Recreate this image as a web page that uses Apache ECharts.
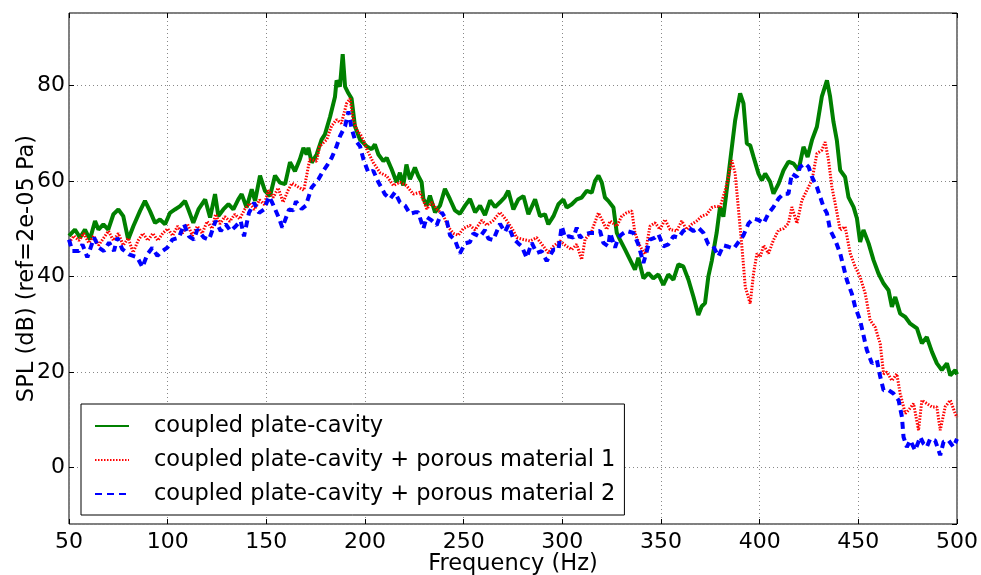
<!DOCTYPE html>
<html>
<head>
<meta charset="utf-8">
<script src="https://cdn.jsdelivr.net/npm/echarts@6/dist/echarts.min.js"></script>
<style>
html,body{margin:0;padding:0;background:#fff;}
#chart{width:981px;height:575px;}
</style>
</head>
<body>
<div id="chart"></div>
<script>
var seriesNames = ["coupled plate-cavity", "coupled plate-cavity + porous material 1", "coupled plate-cavity + porous material 2"];
var xTicks = [50, 100, 150, 200, 250, 300, 350, 400, 450, 500];
var yTicks = [0, 20, 40, 60, 80];

var gFreq = [50,53,55.6,58.1,60.6,63.2,64.9,67.4,69.9,72.5,75,77.5,80,82.6,86,88.5,91,93.6,96.1,98.7,101.2,103.7,106.3,108.8,110.5,113,115.6,119,121.5,124,125.7,128.2,130.8,133.3,135.8,137.5,140,142.6,144.3,146.8,149.3,151.9,154.4,156.9,159.5,162,164.5,167,168.8,170.4,171.3,173,175.5,178,179.7,182.3,184.8,185.6,187.3,188.7,189.9,191.6,193.2,194.9,197.5,200.9,203.4,205,206.8,209.3,211,213.5,216,217.7,219.4,221,222.8,225.3,227,228.7,229.6,231.3,232.9,235.5,238,240.5,243,245.6,248.1,250.7,253.2,255.8,258.3,260.8,263.4,265.9,268.4,270.9,272.6,275.2,277.7,280.3,282.8,286.2,288.7,291.2,292.9,295.5,298,300.5,302.2,304.8,307.3,309.8,312.4,314.9,316.6,318.3,320,321.6,323.3,325.9,327.6,329.2,331.8,334.3,336.8,338.5,341.1,343.6,346.1,348.7,351.2,353.7,356.3,358.8,361.3,363.9,366.4,368.9,370.6,372.3,374,375.7,378.2,379.9,381.6,383,385.1,387.6,390.1,391.8,393.5,395.2,396.9,399.4,401.1,402.8,405.3,407,409.6,412.1,414.6,417.2,419.7,422.2,424.3,426.5,429,431.5,434.1,435.7,437.4,439.1,440.8,443.3,445,447.6,449.3,450.9,452.6,455.2,457.7,460.2,462.8,465.3,467,468.7,471.2,473.8,476.3,479.7,482.2,484.7,487.3,489.8,492.3,494.9,496.6,499.1,500];
var gSpl = [48.5,49.8,48.1,49.8,47.7,51.6,49.8,50.9,49.8,53,54,52.6,47.7,50.5,53.7,55.8,53.7,51.2,51.9,50.9,53.3,54,54.7,55.8,54,51.2,54,56.1,52.3,57.2,52.6,54,55.1,54,56.1,57.2,54.4,58.2,55.8,61.1,57.9,56.8,61.1,59.6,59.3,63.9,62,64.5,66.9,65.5,66.9,63.8,65.5,68.6,69.7,73.4,77.6,81,79.7,86.5,79.7,78.3,77.2,71.4,68.6,67.2,66.6,67.6,65.5,64.1,64.8,62.4,59.7,61.7,59,63.4,60.3,62.8,61,59.7,56.2,54.8,56.9,53.4,54.8,58.3,56.2,53.8,53.1,54.8,56.2,53.4,54.8,52.8,55.9,54.5,55.5,56.6,57.9,54,56.1,56.8,53,56.1,52.6,53,50.9,52.6,55.1,56.1,54.4,55.1,56.1,56.5,57.9,57.5,60,61.1,59.6,56.5,55.8,54.4,49.1,47.7,45.6,43.5,41.4,43.9,39.6,40.7,39.6,40.4,38.2,40.4,39.3,42.5,42.1,39.3,35.8,31.9,33.7,34.4,40,43.2,49.1,54.5,52.5,57,64.3,72.7,78.3,76.2,67.8,67.4,65,61.5,60.1,61.5,59.8,57.3,59.4,62.2,64,63.6,62.2,67.1,65,68.5,71.3,77.6,81,77.6,72.3,68.5,62.2,60.8,56.6,54.5,52.1,47.2,49.7,46.9,43.4,40.6,38.5,37.1,33.6,35.7,32.2,31.5,30.1,29.1,26,27.3,24.2,21.8,20.4,21.8,19.3,20.4,19.5];

var rFreq = [50,52.5,55,57.5,60,62.5,65,67.5,70,72.5,75,77.5,80,82.5,85,87.5,90,92.5,95,97.5,100,102.5,105,107.5,110,112.5,115,117.5,120,122.5,124.3,126.5,129,131.5,134,136.5,139,141.5,144,146.5,149,151,153.5,156,158.5,161,163,165,169,172,175.5,177,180.6,183,185.6,188,190.7,192.4,194,195.8,198.3,201.7,204.2,207.6,211,214.4,217.7,221,224.5,227.9,231.3,233.8,236.3,239.7,242.2,244.8,247.3,249.8,253.2,255.8,259.1,261.7,265,268.4,271.8,275.2,276.9,280.3,283.6,287,290.4,292.9,295.5,298.8,302.2,304.8,307.3,309.8,311.5,314.9,318.3,320,322.5,324.2,327.6,330.1,332.6,335.2,336.8,339.4,341.9,344.4,347,349.5,352,354.6,358,360.5,363,365.6,368.1,370.6,373.2,375.7,378.2,380,382.5,384.2,385.9,387.6,389.3,391,392.7,395.2,396.9,398.6,400.3,402,404.5,407,409.6,412.1,414.6,416.3,418.9,421.4,423.9,426.5,429,431.5,433.2,434.9,436.6,438.3,440.8,443.3,445.9,448.4,450.9,453.5,456,458.5,461.1,462.8,464.5,467,469.5,471.2,473.8,475.4,478,480.5,482.2,484.7,487.3,489.8,491.5,494,496.6,499.1,500];
var rSpl = [47,48.5,47.5,49,47,48.5,46.5,48,49.5,47.5,49,46.5,48,45,47.5,49,47.5,49,47.5,49,50,48.5,50.5,49,51,48.5,50.5,49,51.5,50,53,51,52.5,51.5,53,52,54,55.3,54,56,55,58,56.5,58.5,55.5,58,59.5,59,58,64.5,64.1,67.2,68.6,71.4,72.8,72,76.2,77.2,72.8,70.7,69.3,65.9,63.8,61.7,61,59,59.7,59,57.2,57.6,54.1,55.5,54.1,52.8,50.3,49,48.6,50,50.7,49.7,51.7,50.7,51.7,53.4,51.7,49.5,48.1,47.7,47.4,48.1,46.3,44.9,46.3,47.4,46.3,45.6,46.7,43.5,47.7,49.5,53.3,51.9,49.8,51.6,50.5,52.6,53.3,53.7,49.1,46.3,44.6,50.5,51.2,49.8,51.9,49.8,49.5,51.6,49.8,50.9,51.6,52.6,53,54.4,54.7,54.5,58,60.8,64.3,61.5,53.8,46.2,37.8,34.3,40.6,44.8,44.1,46.5,44.8,47.6,49.7,50,51.1,54.5,51.1,55.9,58,60.1,65.7,66.4,68.1,64.3,58.7,55.2,49.7,50.4,44.8,42,39.9,36.4,30.8,29.4,25.9,19.6,20,18.2,19.6,15.5,11.3,12,13.4,7.8,14.1,13.4,12.7,12.7,7.8,12.7,14.1,11.3,10.5];

var bFreq = [50,51.7,55,56.8,59.3,62.7,65.2,67.7,70.3,72.8,74.5,77,80.4,84.6,87.2,89.7,92.2,94.8,97.3,99.8,102.4,105.7,108.3,110.8,113.3,115,118.4,121,124.3,126.9,129.4,131.9,134.5,137,138.7,141.2,143.8,146.3,148.8,151.4,153,156.4,158.1,161.5,163.7,165,167.9,170,173,176.4,178.9,180.6,183.1,185.6,187.3,189.9,191.6,193.2,194.9,197.5,199.2,201.7,204.2,206.8,210.1,212.7,215.2,217.7,220.3,222.8,225.3,227,229.6,231.3,233.8,236.3,238.9,241.4,243.1,245.6,248.1,250.7,253.2,254.9,258.3,260.8,262.5,265,268.4,270.9,272.6,275.2,277.7,279.4,281.9,284.5,287,289.5,292.1,295.5,298,299.7,301.4,303.1,305.6,307.3,309,311.5,314,316.6,319.1,320.8,323.3,324.2,326.7,328.4,330.1,332.6,336,338.5,341.1,344.4,347,348.7,351.2,353.7,356.3,358.8,361.3,363.9,366.4,368.9,371.5,374,376.5,379.1,381.6,384.2,386.8,389.3,391.8,394.4,396.9,399.4,402,404.5,407,409.6,412.1,414.6,416.3,418.9,420.5,423.1,424.8,426.5,429,430.7,432.4,434.1,435.7,438.3,440.8,442.5,444.2,446.7,448.4,450.9,452.6,454.3,456.9,459.4,461.1,462.8,465.3,467.8,470.4,472.1,472.9,474.6,476.3,478.8,481.4,483,484.7,486.4,488.9,491.5,493.2,495.7,498.2,500];
var bSpl = [47.7,45.3,45.3,46.7,44,48.1,46,45.3,47.1,45.3,48.1,45.7,44.6,44,41.9,44.6,46,44.3,45.3,46,47.7,48.1,50.9,48.4,47.7,49.8,48.1,47.7,51.6,49.5,50.9,49.5,50.5,51.6,48.4,53.3,55.4,53.3,54,56.7,55.4,52.2,50.2,54,53.8,55.7,54.1,54.8,58.6,60.3,62.1,63.1,64.8,67.2,69.3,71.4,74.5,71,68.6,67.2,64.5,61.7,62.1,59.7,57.2,56.2,57.6,55.5,54.8,53.1,53.4,53.4,50,52.4,51.7,50.7,53.4,51.7,48.6,47.6,44.8,46.9,47.2,49,48.3,49.7,47.9,47.6,51,49.3,50.7,47.9,46.9,46.3,43.9,47,44.9,45.3,43.2,45.6,45.6,50.5,48.1,48.4,48.1,50.2,48.1,48.8,49.1,49.1,49.5,47,46.3,49.1,46,48.1,48.8,49.5,49.1,46.7,42.8,47.7,48.1,48.8,46.3,46.7,48.4,48.1,49.5,50.2,49.5,50.2,49.1,46.7,46.3,44.2,46.5,46.2,45.8,47.2,48.6,51.1,52.1,51.8,51.1,53.2,54.5,56.3,57.3,57.3,61.5,60.8,62.9,63.6,62.9,60.8,58.7,56.6,54.5,53.2,49.7,47.6,44.8,42,39.2,36.4,33.6,30.8,27.7,24.6,21.8,22.5,19,16.2,16.2,15.5,14.1,10.6,6.4,4.3,5.7,3.6,6.4,5,4.3,6,5.7,2.6,5.4,5.7,4.3,6];

function zip(xs, ys) { return xs.map(function (x, i) { return [x, ys[i]]; }); }

var FONT = "DejaVu Sans";
var chart = echarts.init(document.getElementById('chart'), null, {renderer: 'canvas'});

var yMin = -11.8, yMax = 95.1;
var tickStyle = {show: true, inside: true, length: 5, lineStyle: {color: '#000', width: 1}};
var gridLine = {show: true, lineStyle: {color: '#888', type: [1, 3], width: 1}};

var option = {
  backgroundColor: '#fff',
  animation: false,
  textStyle: {fontFamily: FONT, color: '#000'},
  grid: {left: 69, right: 24, top: 13, bottom: 51, show: true, borderColor: '#000', borderWidth: 1,
    backgroundColor: 'transparent', containLabel: false, outerBoundsMode: 'none'},
  legend: {
    orient: 'vertical', left: 81, top: 404,
    padding: [9, 9, 8, 13],
    itemGap: 8, itemWidth: 34, itemHeight: 14,
    borderColor: '#000', borderWidth: 1, backgroundColor: '#fff',
    itemStyle: {opacity: 0},
    textStyle: {fontFamily: FONT, fontSize: 22.5, color: '#000', lineHeight: 26, padding: [0, 0, 0, 20]},
    data: seriesNames
  },
  xAxis: [{
    type: 'value', min: 50, max: 500, interval: 50,
    name: 'Frequency (Hz)', nameLocation: 'middle', nameGap: 29, nameMoveOverlap: false,
    nameTextStyle: {fontFamily: FONT, fontSize: 22.5, color: '#000'},
    axisLine: {show: false, onZero: false},
    axisTick: tickStyle,
    axisLabel: {fontFamily: FONT, fontSize: 22, color: '#000', margin: 7,
      formatter: function (v) { return xTicks.indexOf(v) >= 0 ? String(v) : ''; }},
    splitLine: gridLine
  }, {
    type: 'value', min: 50, max: 500, interval: 50, position: 'top',
    axisLine: {show: false, onZero: false}, axisLabel: {show: false}, splitLine: {show: false},
    axisTick: tickStyle
  }],
  yAxis: [{
    type: 'value', min: yMin, max: yMax, splitNumber: 5,
    name: 'SPL (dB) (ref=2e-05 Pa)', nameLocation: 'middle', nameGap: 30, nameMoveOverlap: false,
    nameTextStyle: {fontFamily: FONT, fontSize: 22.5, color: '#000'},
    axisLine: {show: false, onZero: false},
    axisTick: tickStyle,
    axisLabel: {fontFamily: FONT, fontSize: 22, color: '#000', margin: 4, showMinLabel: false, showMaxLabel: false,
      formatter: function (v) { return yTicks.indexOf(v) >= 0 ? String(v) : ''; }},
    splitLine: gridLine
  }, {
    type: 'value', min: yMin, max: yMax, splitNumber: 5, position: 'right',
    axisLine: {show: false, onZero: false}, axisLabel: {show: false}, splitLine: {show: false},
    axisTick: tickStyle
  }],
  series: [{
    name: seriesNames[0], type: 'line', xAxisIndex: 0, yAxisIndex: 0,
    data: zip(gFreq, gSpl), showSymbol: false, symbol: 'none', z: 3,
    lineStyle: {color: '#008000', width: 4, type: 'solid'}, itemStyle: {color: '#008000'}
  }, {
    name: seriesNames[1], type: 'line', xAxisIndex: 0, yAxisIndex: 0,
    data: zip(rFreq, rSpl), showSymbol: false, symbol: 'none', z: 4,
    lineStyle: {color: '#ff0000', width: 3, type: [1.5, 1.5]}, itemStyle: {color: '#ff0000'}
  }, {
    name: seriesNames[2], type: 'line', xAxisIndex: 0, yAxisIndex: 0,
    data: zip(bFreq, bSpl), showSymbol: false, symbol: 'none', z: 5,
    lineStyle: {color: '#0000ff', width: 4, type: [7, 5]}, itemStyle: {color: '#0000ff'}
  }]
};
chart.setOption(option);
</script>
</body>
</html>
